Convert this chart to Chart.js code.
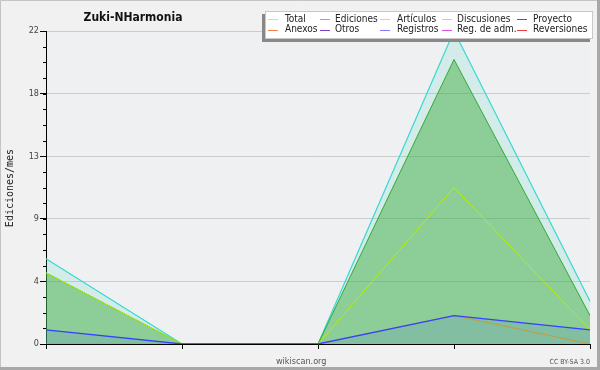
<!DOCTYPE html>
<html>
<head>
<meta charset="utf-8">
<script src="https://cdn.jsdelivr.net/npm/chart.js@4/dist/chart.umd.min.js"></script>
<style>
  html, body { margin: 0; padding: 0; background: #f1f1f1; }
  #wrap { width: 600px; height: 370px; }
</style>
</head>
<body>
<div id="wrap"><canvas id="c" width="600" height="370"></canvas></div>
<script>
// ---- data ----
const categories = ['1', '2', '3', '4', '5'];
const total       = [6, 0, 0, 22, 3];
const ediciones   = [5, 0, 0, 20, 2];
const articulos   = [5, 0, 0, 11, 1];
const discusiones = [0, 0, 0, 2, 0];
const registros   = [1, 0, 0, 2, 1];

const yMax = 22;
const yMajorStep = 4.4;
const yMinorStep = 1.1;

const chartTitle = 'Zuki-NHarmonia';
const yTitle = 'Ediciones/mes';
const footerLeft = 'wikiscan.org';
const footerRight = 'CC BY-SA 3.0';

const legendLabels = ['Total', 'Ediciones', 'Artículos', 'Discusiones', 'Proyecto',
                      'Anexos', 'Otros', 'Registros', 'Reg. de adm.', 'Reversiones'];
const legendColors = ['#a8e4e0', '#80c080', '#c8e860', '#ffc850', '#606060',
                      '#ff8040', '#8040c8', '#8080ff', '#e050e0', '#e84040'];

// ---- plugins ----
const COND = '"DejaVu Sans Condensed", "DejaVu Sans", sans-serif';

const decor = {
  id: 'decor',
  beforeDraw(chart) {
    const ctx = chart.ctx, a = chart.chartArea;
    ctx.save();
    ctx.fillStyle = '#f1f1f1';
    ctx.fillRect(0, 0, chart.width, chart.height);
    ctx.fillStyle = '#eff0f2';
    ctx.fillRect(a.left, a.top, a.right - a.left, a.bottom - a.top);
    ctx.restore();
  },
  afterDraw(chart) {
    const ctx = chart.ctx, a = chart.chartArea;
    const ys = chart.scales.y;
    ctx.save();
    // minor ticks on y axis
    ctx.strokeStyle = '#000';
    ctx.lineWidth = 1;
    for (let v = 0; v <= yMax + 1e-6; v += yMinorStep) {
      const y = Math.round(ys.getPixelForValue(v)) + 0.5;
      ctx.beginPath();
      ctx.moveTo(a.left - 3, y);
      ctx.lineTo(a.left, y);
      ctx.stroke();
    }
    // title
    ctx.fillStyle = '#111';
    ctx.font = 'bold 12px ' + COND;
    ctx.textAlign = 'center';
    ctx.textBaseline = 'alphabetic';
    ctx.fillText(chartTitle, 133, 21);
    // y title
    ctx.save();
    ctx.translate(13, 188);
    ctx.rotate(-Math.PI / 2);
    ctx.font = '10px "DejaVu Sans Mono", monospace';
    ctx.fillStyle = '#222';
    ctx.textAlign = 'center';
    ctx.fillText(yTitle, 0, 0);
    ctx.restore();
    // footer
    ctx.fillStyle = '#555';
    ctx.font = '9px ' + COND;
    ctx.textAlign = 'left';
    ctx.fillText(footerLeft, 276, 364);
    ctx.font = '7px ' + COND;
    ctx.textAlign = 'right';
    ctx.fillText(footerRight, 590, 364);
    // legend box
    const bx = 265, by = 11, bw = 328, bh = 28;
    ctx.fillStyle = '#888';
    ctx.fillRect(bx - 3, by + 3, bw, bh);
    ctx.fillStyle = '#fff';
    ctx.fillRect(bx, by, bw, bh);
    ctx.strokeStyle = '#c8c8c8';
    ctx.strokeRect(bx + 0.5, by + 0.5, bw - 1, bh - 1);
    const lineX = [268, 320, 380, 442, 517];
    const textX = [285, 335, 397, 457, 533];
    const rowY = [19, 29.5];
    ctx.font = '10px ' + COND;
    ctx.textAlign = 'left';
    ctx.textBaseline = 'middle';
    legendLabels.forEach((lab, i) => {
      const col = i % 5, row = Math.floor(i / 5);
      const y = Math.round(rowY[row]) + 0.5;
      ctx.strokeStyle = legendColors[i];
      ctx.beginPath();
      ctx.moveTo(lineX[col], y);
      ctx.lineTo(lineX[col] + 10, y);
      ctx.stroke();
      ctx.fillStyle = '#222';
      ctx.fillText(lab, textX[col], rowY[row]);
    });
    // outer border
    ctx.strokeStyle = '#c4c4c4';
    ctx.lineWidth = 1;
    ctx.beginPath();
    ctx.moveTo(0.5, 369); ctx.lineTo(0.5, 0.5); ctx.lineTo(599, 0.5);
    ctx.stroke();
    ctx.fillStyle = '#a8a8a8';
    ctx.fillRect(597, 0, 3, 370);
    ctx.fillRect(0, 367, 600, 3);
    ctx.restore();
  }
};

function ds(label, data, line, fill, order, width) {
  return {
    label, data,
    borderColor: line,
    backgroundColor: fill || 'rgba(0,0,0,0)',
    fill: fill ? 'origin' : false,
    borderWidth: width || 1,
    pointRadius: 0,
    pointHoverRadius: 0,
    tension: 0,
    order
  };
}

new Chart(document.getElementById('c'), {
  type: 'line',
  data: {
    labels: categories,
    datasets: [
      ds('Registros', registros, '#3340ff', 'rgba(50,60,255,0.10)', 1, 1.3),
      ds('Discusiones', discusiones, '#d8a820', null, 2, 1),
      ds('Artículos', articulos, '#b4f000', null, 3, 1),
      ds('Ediciones', ediciones, '#33aa33', 'rgba(60,170,60,0.47)', 4, 1),
      ds('Total', total, '#38d8d0', 'rgba(70,215,190,0.16)', 5, 1.2)
    ]
  },
  options: {
    responsive: false,
    animation: false,
    devicePixelRatio: 1,
    layout: { padding: { left: 0, top: 31, right: 10, bottom: 0 } },
    plugins: { legend: { display: false }, title: { display: false }, tooltip: { enabled: false } },
    scales: {
      x: {
        type: 'category',
        offset: false,
        grid: { display: true, drawOnChartArea: false, drawTicks: true, tickLength: 5, tickColor: '#000' },
        border: { display: true, color: '#000', width: 1 },
        ticks: { callback: () => '', autoSkip: false, maxRotation: 0 },
        afterFit(s) { s.height = 26; }
      },
      y: {
        min: 0, max: yMax,
        grid: { color: '#cccccc', tickColor: '#000', tickLength: 6 },
        border: { display: true, color: '#000', width: 1 },
        ticks: {
          stepSize: yMajorStep,
          padding: 1,
          color: '#444',
          font: { family: COND, size: 9 },
          callback: v => String(Math.round(v))
        },
        afterFit(s) { s.width = 46; }
      }
    }
  },
  plugins: [decor]
});
</script>
</body>
</html>
